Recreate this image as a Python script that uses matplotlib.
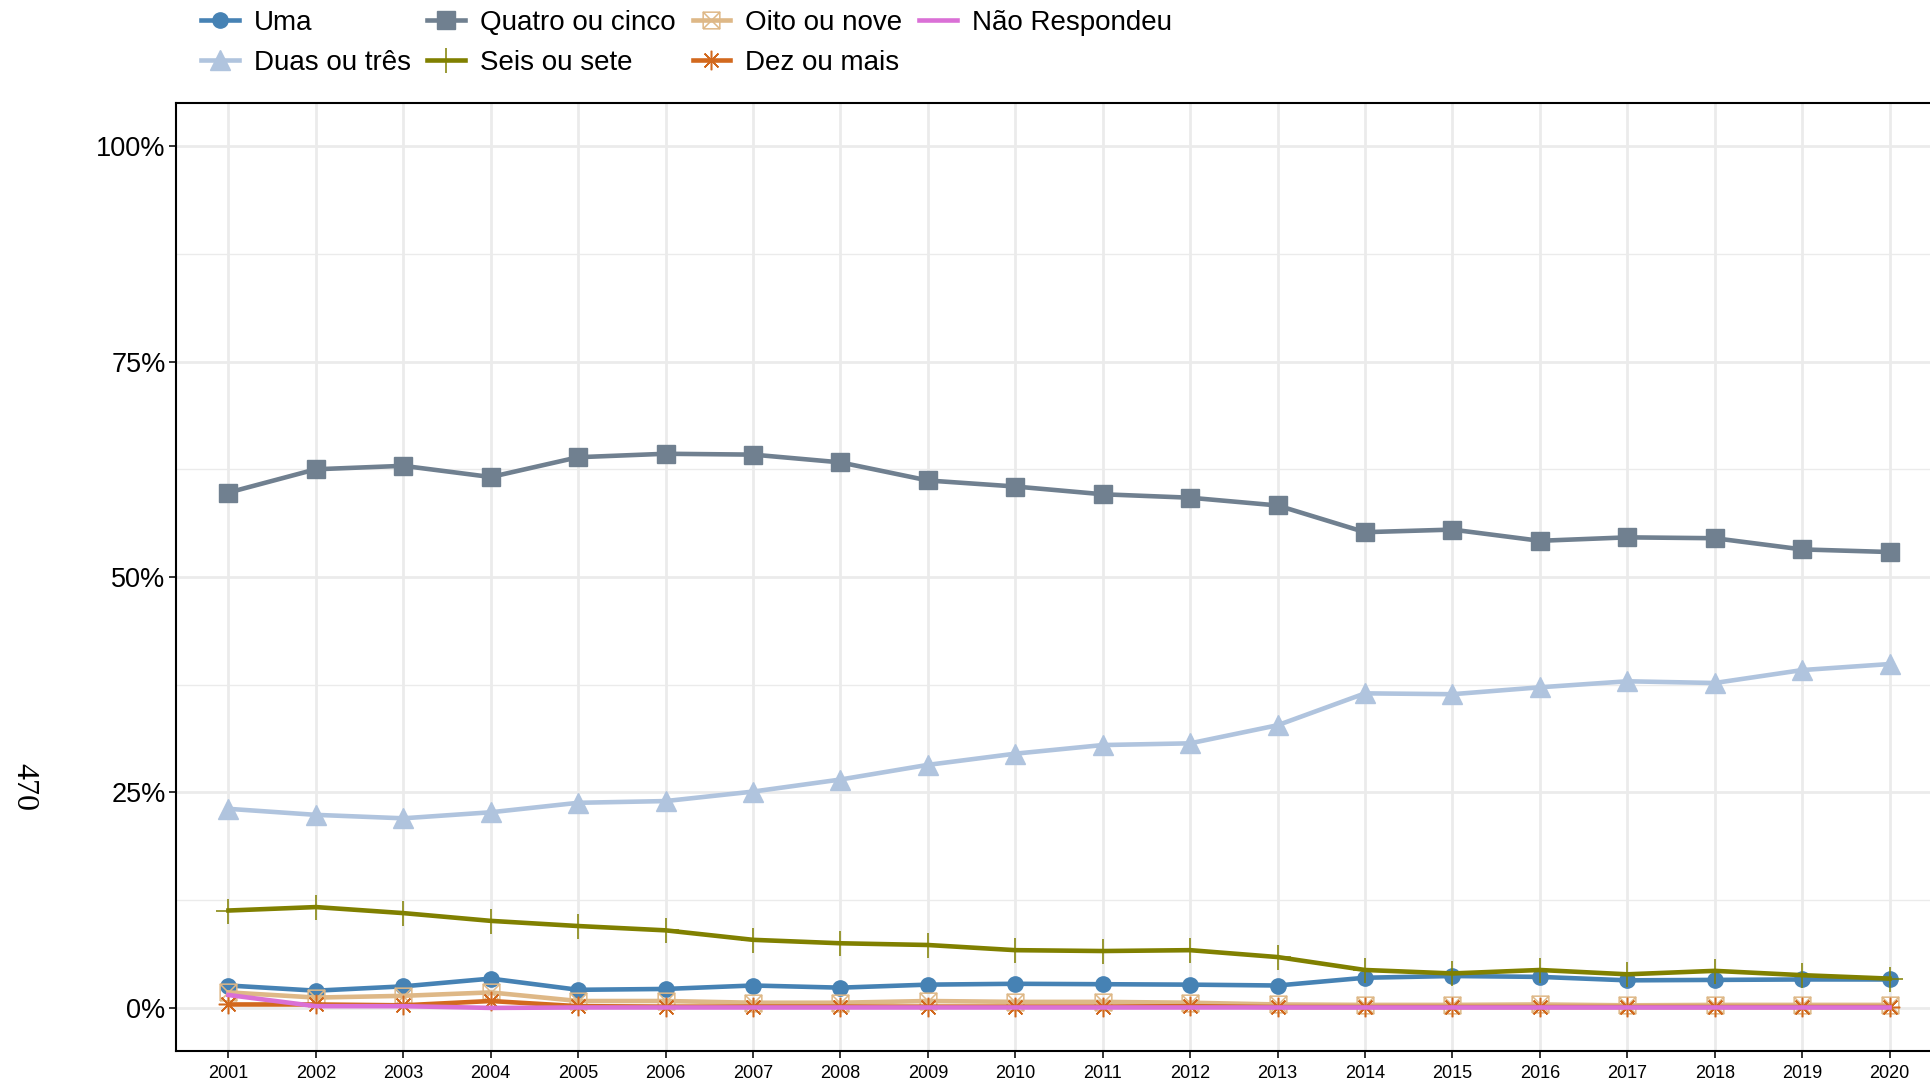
import numpy as np
import matplotlib
matplotlib.use("Agg")
import matplotlib.pyplot as plt
from matplotlib.path import Path
from matplotlib.ticker import FixedLocator, FuncFormatter

plt.rcParams["font.family"] = ["Liberation Sans", "DejaVu Sans"]

# dados (%)
anos = list(range(2001, 2021))
uma = [2.6, 2.0, 2.5, 3.4, 2.1, 2.2, 2.6, 2.35, 2.7, 2.8,
       2.75, 2.7, 2.6, 3.5, 3.7, 3.6, 3.2, 3.25, 3.3, 3.3]
duas_tres = [23.1, 22.4, 22.0, 22.7, 23.8, 24.0, 25.1, 26.5, 28.2, 29.5,
             30.5, 30.7, 32.8, 36.5, 36.4, 37.2, 37.9, 37.7, 39.2, 39.9]
quatro_cinco = [59.8, 62.5, 62.9, 61.6, 63.9, 64.3, 64.2, 63.3, 61.2, 60.5,
                59.6, 59.2, 58.3, 55.2, 55.5, 54.2, 54.6, 54.5, 53.2, 52.9]
seis_sete = [11.3, 11.7, 11.0, 10.1, 9.5, 9.0, 7.9, 7.5, 7.3, 6.7,
             6.6, 6.7, 5.9, 4.4, 4.0, 4.4, 3.9, 4.3, 3.8, 3.4]
oito_nove = [1.8, 1.2, 1.4, 1.8, 0.8, 0.8, 0.6, 0.6, 0.8, 0.7,
             0.7, 0.6, 0.4, 0.35, 0.35, 0.4, 0.3, 0.35, 0.35, 0.35]
dez_mais = [0.4, 0.4, 0.3, 0.8, 0.2, 0.15, 0.15, 0.15, 0.15, 0.15,
            0.15, 0.2, 0.1, 0.1, 0.1, 0.1, 0.1, 0.1, 0.1, 0.1]
nao_resp = [1.5, 0.2, 0.2, 0.0, 0.05, 0.05, 0.05, 0.05, 0.05, 0.05,
            0.05, 0.05, 0.05, 0.05, 0.05, 0.05, 0.05, 0.05, 0.05, 0.05]

nomes = ["Uma", "Duas ou três", "Quatro ou cinco", "Seis ou sete",
         "Oito ou nove", "Dez ou mais", "Não Respondeu"]
cores = ["#4682B4", "#B0C4DE", "#708090", "#808000",
         "#DEB887", "#D2691E", "#DA70D6"]

# quadrado com X (shape 7 do ggplot)
box_x = Path([(-1, -1), (1, -1), (1, 1), (-1, 1), (-1, -1),
              (-1, -1), (1, 1), (-1, 1), (1, -1)],
             [Path.MOVETO, Path.LINETO, Path.LINETO, Path.LINETO, Path.LINETO,
              Path.MOVETO, Path.LINETO, Path.MOVETO, Path.LINETO])

estilos = [
    dict(marker="o", ms=11),
    dict(marker="^", ms=15),
    dict(marker="s", ms=13),
    dict(marker="+", ms=18, mew=1.1),
    dict(marker=box_x, ms=12, mew=1.1, mfc="none"),
    dict(marker=(8, 2, 0), ms=14, mew=1.1),
    dict(marker=None),
]

series = [uma, duas_tres, quatro_cinco, seis_sete, oito_nove, dez_mais, nao_resp]

fig = plt.figure(figsize=(19.3, 10.79), dpi=100)
ax = fig.add_axes([176 / 1930, 1 - 1051 / 1079, (1942 - 176) / 1930, (1051 - 103) / 1079])

for vals, nome, cor, st in zip(series, nomes, cores, estilos):
    ax.plot(anos, vals, color=cor, lw=3.3, label=nome, **st)

ax.set_xlim(2000.4, 2020.6)
ax.set_ylim(-5, 105)
ax.set_xticks(anos)
ax.set_xticklabels([str(a) for a in anos], fontsize=13)
ax.yaxis.set_major_locator(FixedLocator([0, 25, 50, 75, 100]))
ax.yaxis.set_minor_locator(FixedLocator([12.5, 37.5, 62.5, 87.5]))
ax.yaxis.set_major_formatter(FuncFormatter(lambda v, p: f"{v:.0f}%"))
ax.tick_params(axis="y", labelsize=19.5)
ax.tick_params(which="major", length=5, width=1.4, color="#333333", pad=2.5)
ax.tick_params(axis="x", pad=5)
ax.tick_params(which="minor", length=0)

ax.grid(which="major", color="#EBEBEB", lw=2.0)
ax.grid(which="minor", axis="y", color="#EBEBEB", lw=1.0)
ax.set_axisbelow(True)
for sp in ax.spines.values():
    sp.set_linewidth(1.5)
    sp.set_color("black")

fig.text(24 / 1930, 1 - 787 / 1079, "470", rotation=-90, fontsize=23,
         family=["Liberation Serif", "DejaVu Serif"], ha="center", va="center")

fig.legend(loc="upper left", bbox_to_anchor=(201 / 1930, 1 - 10 / 1079),
           ncol=4, frameon=False, fontsize=20, borderpad=0, borderaxespad=0,
           handlelength=1.35, handletextpad=0.55, columnspacing=0.6,
           labelspacing=0.5)

fig.savefig("out.png", dpi=100)
